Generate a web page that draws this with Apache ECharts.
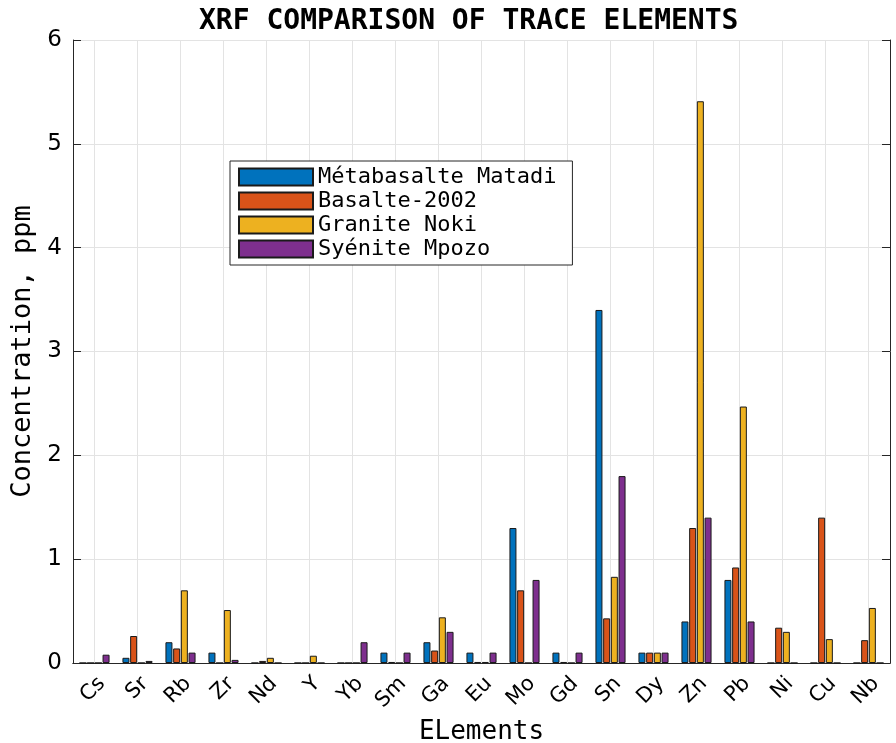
<!DOCTYPE html>
<html>
<head>
<meta charset="utf-8">
<script src="https://cdn.jsdelivr.net/npm/echarts@6/dist/echarts.min.js"></script>
<style>
  html, body { margin: 0; padding: 0; background: #fff; }
  #diagram { width: 896px; height: 743px; }
</style>
</head>
<body>
<div id="diagram"></div>
<script>
var elements = ["Cs", "Sr", "Rb", "Zr", "Nd", "Y", "Yb", "Sm", "Ga", "Eu",
                "Mo", "Gd", "Sn", "Dy", "Zn", "Pb", "Ni", "Cu", "Nb"];
var metabasalte = [0, 0.05, 0.2, 0.1, 0, 0, 0, 0.1, 0.2, 0.1, 1.3, 0.1, 3.4, 0.1, 0.4, 0.8, 0, 0, 0];
var basalte2002 = [0, 0.26, 0.14, 0, 0.02, 0, 0, 0.01, 0.12, 0.01, 0.7, 0.01, 0.43, 0.1, 1.3, 0.92, 0.34, 1.4, 0.22];
var graniteNoki = [0, 0, 0.7, 0.51, 0.05, 0.07, 0, 0, 0.44, 0.01, 0, 0, 0.83, 0.1, 5.41, 2.47, 0.3, 0.23, 0.53];
var syeniteMpozo = [0.08, 0.02, 0.1, 0.03, 0, 0, 0.2, 0.1, 0.3, 0.1, 0.8, 0.1, 1.8, 0.1, 1.4, 0.4, 0, 0, 0];
var yTicks = [0, 1, 2, 3, 4, 5, 6];

var myChart = echarts.init(document.getElementById("diagram"));
var frame = "#262626";
var grid = "#e3e3e3";

function bar(name, data) {
  return {
    name: name,
    type: "bar",
    data: data,
    barGap: "10%",
    barCategoryGap: "30%",
    itemStyle: { borderColor: "#1a1a1a", borderWidth: 1 }
  };
}

var option = {
  animation: false,
  color: ["#0072BD", "#D95319", "#EDB120", "#7E2F8E"],
  title: {
    text: "XRF COMPARISON OF TRACE ELEMENTS",
    left: 194,
    top: 3,
    textStyle: { fontFamily: "DejaVu Sans Mono", fontSize: 28, fontWeight: "bold", color: "#000" }
  },
  legend: {
    orient: "vertical",
    left: 230,
    top: 161,
    padding: [5, 16, 5, 8],
    itemWidth: 74,
    itemHeight: 17,
    itemGap: 2,
    icon: "rect",
    borderColor: frame,
    borderWidth: 1,
    backgroundColor: "#fff",
    textStyle: { fontFamily: "DejaVu Sans Mono", fontSize: 22, lineHeight: 22, color: "#000" },
    data: ["Métabasalte Matadi", "Basalte-2002", "Granite Noki", "Syénite Mpozo"]
  },
  grid: { left: 73, right: 6, top: 40, bottom: 80, outerBoundsMode: "none" },
  xAxis: [
    {
      type: "category",
      data: elements,
      boundaryGap: true,
      name: "ELements",
      nameLocation: "middle",
      nameGap: 54,
      nameTextStyle: { fontFamily: "DejaVu Sans Mono", fontSize: 26, color: "#000" },
      axisLine: { lineStyle: { color: frame, width: 1 } },
      axisTick: { inside: true, alignWithLabel: true, length: 8, lineStyle: { color: frame } },
      axisLabel: { rotate: 45, margin: 10, interval: 0, verticalAlign: "top", fontFamily: "DejaVu Sans", fontSize: 21, color: "#000" },
      splitLine: { show: true, alignWithLabel: true, lineStyle: { color: grid } }
    },
    {
      type: "category",
      data: elements,
      position: "top",
      boundaryGap: true,
      axisLine: { lineStyle: { color: frame, width: 1 } },
      axisTick: { inside: true, alignWithLabel: true, length: 8, lineStyle: { color: frame } },
      axisLabel: { show: false },
      splitLine: { show: false }
    }
  ],
  yAxis: [
    {
      type: "value",
      min: 0,
      max: 6,
      interval: 1,
      name: "Concentration, ppm",
      nameLocation: "middle",
      nameGap: 35,
      nameTextStyle: { fontFamily: "DejaVu Sans Mono", fontSize: 27, color: "#000" },
      axisLine: { show: true, lineStyle: { color: frame, width: 1 } },
      axisTick: { show: true, inside: true, length: 8, lineStyle: { color: frame } },
      axisLabel: {
        margin: 11, fontFamily: "DejaVu Sans", fontSize: 23, color: "#000",
        formatter: function (v) { return yTicks.indexOf(v) >= 0 ? String(v) : ""; }
      },
      splitLine: { show: true, lineStyle: { color: grid } }
    },
    {
      type: "value",
      min: 0,
      max: 6,
      interval: 1,
      position: "right",
      axisLine: { show: true, lineStyle: { color: frame, width: 1 } },
      axisTick: { show: true, inside: true, length: 8, lineStyle: { color: frame } },
      axisLabel: { show: false },
      splitLine: { show: false }
    }
  ],
  series: [
    bar("Métabasalte Matadi", metabasalte),
    bar("Basalte-2002", basalte2002),
    bar("Granite Noki", graniteNoki),
    bar("Syénite Mpozo", syeniteMpozo)
  ]
};
myChart.setOption(option);
</script>
</body>
</html>
